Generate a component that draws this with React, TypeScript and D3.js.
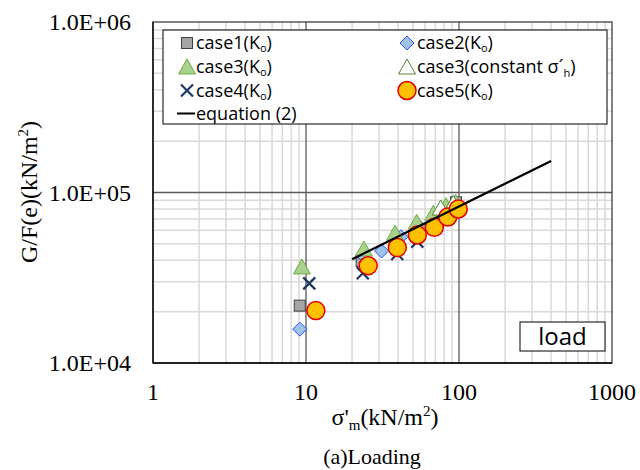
import React from "react";
import * as d3 from "d3";

// ---- data ----
const case1X = [9.1, 23.1, 95.6];
const case1Y = [21700, 39650, 87600];
const case2X = [9.1, 23.5, 31.2, 41.8, 56.2, 80, 94];
const case2Y = [15800, 43000, 45400, 55000, 61900, 77000, 84000];
const case3X = [9.4, 23.9, 38.2, 52.9, 67.9, 82.2, 95];
const case3Y = [36100, 46000, 56900, 66000, 74500, 82500, 86500];
const case3cX = [75.9, 91.8];
const case3cY = [80000, 85300];
const case4X = [10.5, 23.5, 39.5, 53.4];
const case4Y = [29300, 33600, 43600, 51500];
const case5X = [11.6, 25.5, 39.5, 53.4, 69, 84.4, 98.9];
const case5Y = [20300, 37200, 47500, 56300, 62500, 71800, 80000];
const eqX = [20, 400];
const eqY = [40600, 153000];

const xTicks = [1, 10, 100, 1000];
const xTickLabels = ["1", "10", "100", "1000"];
const yTicks = [1e4, 1e5, 1e6];
const yTickLabels = ["1.0E+04", "1.0E+05", "1.0E+06"];

const W = 640, H = 470;
const L = 153, R = 612, T = 22, B = 363;

const x = d3.scaleLog().domain([1, 1000]).range([L, R]);
const y = d3.scaleLog().domain([1e4, 1e6]).range([B, T]);

const serif = "'Liberation Serif', 'Times New Roman', serif";
const sans = "'Open Sans', 'Noto Sans', sans-serif";

function minorVals(lo: number, hi: number) {
  const out: number[] = [];
  for (let d = lo; d < hi; d *= 10) for (let k = 2; k <= 9; k++) out.push(d * k);
  return out;
}

type MK = "sq" | "dia" | "tri" | "triw" | "x" | "circ";
function Marker({ kind, cx, cy }: { kind: MK; cx: number; cy: number }) {
  switch (kind) {
    case "sq":
      return <rect x={cx - 5.5} y={cy - 5.5} width={11} height={11} fill="#a5a5a5" stroke="#404040" strokeWidth={1} />;
    case "dia":
      return <path d={`M${cx},${cy - 7}L${cx + 7},${cy}L${cx},${cy + 7}L${cx - 7},${cy}Z`} fill="#9dc3e6" stroke="#2e4bff" strokeWidth={1} />;
    case "tri":
      return <path d={`M${cx},${cy - 9}L${cx + 8.5},${cy + 6}L${cx - 8.5},${cy + 6}Z`} fill="#a9d18e" stroke="#70ad47" strokeWidth={1} />;
    case "triw":
      return <path d={`M${cx},${cy - 9}L${cx + 8.5},${cy + 6}L${cx - 8.5},${cy + 6}Z`} fill="#ffffff" stroke="#548235" strokeWidth={1} />;
    case "x":
      return <path d={`M${cx - 6},${cy - 6}L${cx + 6},${cy + 6}M${cx - 6},${cy + 6}L${cx + 6},${cy - 6}`} stroke="#1f3864" strokeWidth={2.2} fill="none" />;
    case "circ":
      return <circle cx={cx} cy={cy} r={9} fill="#ffc000" stroke="#e00000" strokeWidth={1.5} />;
  }
}

const series: { kind: MK; xs: number[]; ys: number[] }[] = [
  { kind: "sq", xs: case1X, ys: case1Y },
  { kind: "dia", xs: case2X, ys: case2Y },
  { kind: "tri", xs: case3X, ys: case3Y },
  { kind: "triw", xs: case3cX, ys: case3cY },
  { kind: "x", xs: case4X, ys: case4Y },
  { kind: "circ", xs: case5X, ys: case5Y },
];

export default function App() {
  const line = d3.line<number>().x((_, i) => x(eqX[i])).y((_, i) => y(eqY[i]));
  const legRows = [43, 67, 90.5, 113.5];
  const c1 = 187, c2 = 407;
  const fs = 18;
  const Ko = (
    <>
      (K<tspan fontSize={11} dy={3}>o</tspan>
      <tspan dy={-3}>)</tspan>
    </>
  );
  return (
    <svg width={W} height={H} style={{ position: "absolute", left: 0, top: 0, background: "#fff" }}>
      <rect x={0} y={0} width={W} height={H} fill="#fff" />
      {/* minor grid */}
      {minorVals(1, 1000).map((v) => (
        <line key={"mx" + v} x1={x(v)} x2={x(v)} y1={T} y2={B} stroke="#d9d9d9" strokeWidth={1.5} />
      ))}
      {minorVals(1e4, 1e6).map((v) => (
        <line key={"my" + v} x1={L} x2={R} y1={y(v)} y2={y(v)} stroke="#d9d9d9" strokeWidth={1.5} />
      ))}
      {/* major grid */}
      {[10, 100].map((v) => (
        <line key={"Mx" + v} x1={x(v)} x2={x(v)} y1={T} y2={B} stroke="#595959" strokeWidth={1.3} />
      ))}
      {[1e5].map((v) => (
        <line key={"My" + v} x1={L} x2={R} y1={y(v)} y2={y(v)} stroke="#595959" strokeWidth={1.3} />
      ))}
      {/* frame */}
      <rect x={L} y={T} width={R - L} height={B - T} fill="none" stroke="#404040" strokeWidth={1.3} />
      <line x1={L} x2={L} y1={T} y2={B} stroke="#000" strokeWidth={1.3} />
      <line x1={L} x2={R} y1={B} y2={B} stroke="#000" strokeWidth={1.3} />

      {/* data */}
      {series.map((s, si) =>
        s.xs.map((xv, i) => <Marker key={si + "-" + i} kind={s.kind} cx={x(xv)} cy={y(s.ys[i])} />)
      )}
      <path d={line(eqX) || ""} stroke="#000" strokeWidth={2.2} fill="none" />

      {/* legend */}
      <rect x={163} y={30} width={444} height={94} fill="#fff" stroke="#000" strokeWidth={1} />
      <g fontFamily={sans} fontSize={fs} fill="#000">
        <Marker kind="sq" cx={c1} cy={legRows[0]} />
        <text x={c1 + 9} y={legRows[0] + 6}>case1{Ko}</text>
        <Marker kind="dia" cx={c2} cy={legRows[0]} />
        <text x={c2 + 10} y={legRows[0] + 6}>case2{Ko}</text>
        <Marker kind="tri" cx={c1} cy={legRows[1] + 1} />
        <text x={c1 + 9} y={legRows[1] + 6}>case3{Ko}</text>
        <Marker kind="triw" cx={c2} cy={legRows[1] + 1} />
        <text x={c2 + 10} y={legRows[1] + 6}>
          case3(constant σ´<tspan fontSize={11} dy={4}>h</tspan>
          <tspan dy={-4}>)</tspan>
        </text>
        <Marker kind="x" cx={c1} cy={legRows[2]} />
        <text x={c1 + 9} y={legRows[2] + 6}>case4{Ko}</text>
        <Marker kind="circ" cx={c2} cy={legRows[2]} />
        <text x={c2 + 10} y={legRows[2] + 6}>case5{Ko}</text>
        <line x1={c1 - 10} x2={c1 + 8} y1={legRows[3]} y2={legRows[3]} stroke="#000" strokeWidth={2} />
        <text x={c1 + 9} y={legRows[3] + 6}>equation (2)</text>
      </g>

      {/* load box */}
      <rect x={520} y={322} width={85} height={29} fill="#fff" stroke="#000" strokeWidth={1} />
      <text x={562.5} y={345} textAnchor="middle" fontFamily={sans} fontSize={24}>load</text>

      {/* tick labels */}
      <g fontFamily={serif} fontSize={24} fill="#000">
        {xTicks.map((v, i) => (
          <text key={"xt" + v} x={x(v)} y={400} textAnchor="middle">{xTickLabels[i]}</text>
        ))}
        {yTicks.map((v, i) => (
          <text key={"yt" + v} x={131} y={y(v) + 8} textAnchor="end">{yTickLabels[i]}</text>
        ))}
      </g>
      {/* axis titles */}
      <text x={385} y={425} textAnchor="middle" fontFamily={serif} fontSize={24}>
        σ'<tspan fontSize={15} dy={5}>m</tspan>
        <tspan dy={-5}>(kN/m</tspan>
        <tspan fontSize={15} dy={-9}>2</tspan>
        <tspan dy={9}>)</tspan>
      </text>
      <text x={372} y={464} textAnchor="middle" fontFamily={serif} fontSize={22}>(a)Loading</text>
      <text transform={`translate(37,192) rotate(-90)`} textAnchor="middle" fontFamily={serif} fontSize={24}>
        G/F(e)(kN/m<tspan fontSize={15} dy={-9}>2</tspan>
        <tspan dy={9}>)</tspan>
      </text>
    </svg>
  );
}
